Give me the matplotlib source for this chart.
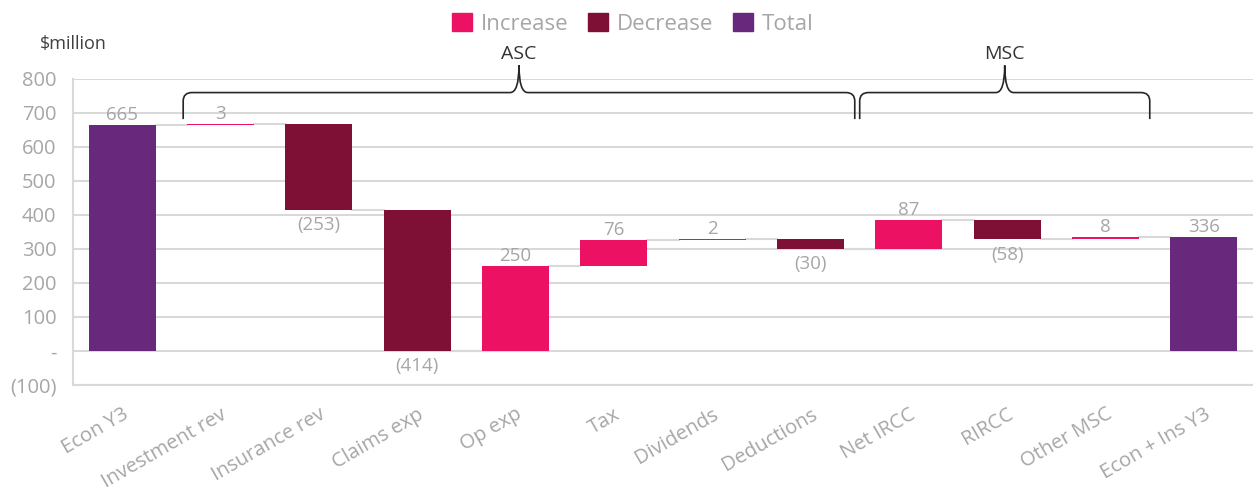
import matplotlib.pyplot as plt
from matplotlib.path import Path
from matplotlib.patches import PathPatch, Patch
import numpy as np

plt.rcParams['font.family'] = ['Open Sans', 'DejaVu Sans']

# Waterfall data ($million)
categories = ['Econ Y3', 'Investment rev', 'Insurance rev', 'Claims exp', 'Op exp', 'Tax',
              'Dividends', 'Deductions', 'Net IRCC', 'RIRCC', 'Other MSC', 'Econ + Ins Y3']
values = [665, 3, -253, -414, 250, 76, 2, -30, 87, -58, 8, 336]
kinds = ['total', 'change', 'change', 'change', 'change', 'change',
         'change', 'change', 'change', 'change', 'change', 'total']

c_inc = '#EC1163'
c_dec = '#7F1035'
c_tot = '#68297D'
c_grid = '#D9D9D9'
c_text = '#A6A6A6'


def fmt(v):
    if v == 0:
        return '-'
    if v < 0:
        return '(' + str(int(-v)) + ')'
    return str(int(v))


fig = plt.figure(figsize=(12.53, 4.92), dpi=100)
ax = fig.add_axes([0.0583, 0.2175, 0.9417, 0.622])

x = np.arange(len(categories))
width = 0.68

running = 0
levels = []
for i, (v, k) in enumerate(zip(values, kinds)):
    if k == 'total':
        bottom, height, color = 0, v, c_tot
        running = v
        ax.text(i, v + 2, fmt(v), ha='center', va='bottom', fontsize=13.5, color=c_text)
    else:
        start = running
        running = running + v
        bottom, height = min(start, running), abs(v)
        color = c_inc if v > 0 else c_dec
        if v > 0:
            ax.text(i, running + 2, fmt(v), ha='center', va='bottom', fontsize=13.5, color=c_text)
        else:
            ax.text(i, running - 18, fmt(v), ha='center', va='top', fontsize=13.5, color=c_text)
    ax.bar(i, height, bottom=bottom, width=width, color=color, zorder=3)
    levels.append(running)

# connector lines between bars
for i in range(len(categories) - 1):
    ax.plot([i + width / 2, i + 1 - width / 2], [levels[i], levels[i]],
            color=c_grid, lw=1.5, zorder=2)


def brace(ax, x0, x1, yb, yh, yt, label):
    xc = (x0 + x1) / 2
    rx, ry = 0.09, 25
    verts = [(x0, yb), (x0, yh - ry), (x0, yh), (x0 + rx, yh),
             (xc - rx, yh), (xc, yh), (xc, yt),
             (xc, yh), (xc + rx, yh),
             (x1 - rx, yh), (x1, yh), (x1, yh - ry), (x1, yb)]
    codes = [Path.MOVETO, Path.LINETO, Path.CURVE3, Path.CURVE3,
             Path.LINETO, Path.CURVE3, Path.CURVE3,
             Path.CURVE3, Path.CURVE3,
             Path.LINETO, Path.CURVE3, Path.CURVE3, Path.LINETO]
    ax.add_patch(PathPatch(Path(verts, codes), fill=False, edgecolor='#262626',
                           lw=1.2, clip_on=False, zorder=5))
    ax.text(xc, yt + 6, label, ha='center', va='bottom', fontsize=14,
            color='#333333', clip_on=False)


brace(ax, 0.62, 7.45, 682, 760, 840, 'ASC')
brace(ax, 7.50, 10.45, 682, 760, 840, 'MSC')

ax.set_xlim(-0.5, 11.5)
ax.set_ylim(-100, 800)
ax.set_yticks(np.arange(-100, 801, 100))
ax.set_yticklabels([fmt(t) for t in np.arange(-100, 801, 100)])
ax.set_xticks(x)
ax.set_xticklabels(categories, rotation=30, ha='right', rotation_mode='anchor')
ax.tick_params(axis='both', length=0, labelcolor=c_text)
ax.tick_params(axis='x', pad=14, labelsize=14.5)
ax.tick_params(axis='y', pad=12, labelsize=14.5)
ax.grid(axis='y', color=c_grid, lw=1.5, zorder=0)
ax.set_axisbelow(True)
for s in ['top', 'right']:
    ax.spines[s].set_visible(False)
for s in ['left', 'bottom']:
    ax.spines[s].set_color(c_grid)
    ax.spines[s].set_linewidth(1.5)

fig.text(0.032, 0.91, '$million', fontsize=13, color='#404040', va='center')

handles = [Patch(color=c_inc), Patch(color=c_dec), Patch(color=c_tot)]
fig.legend(handles, ['Increase', 'Decrease', 'Total'], loc='upper center',
           bbox_to_anchor=(0.505, 1.015), ncol=3, frameon=False, fontsize=16,
           labelcolor=c_text, handlelength=0.9, handleheight=0.9,
           handletextpad=0.4, columnspacing=0.9)

fig.savefig('out.png', dpi=100)
